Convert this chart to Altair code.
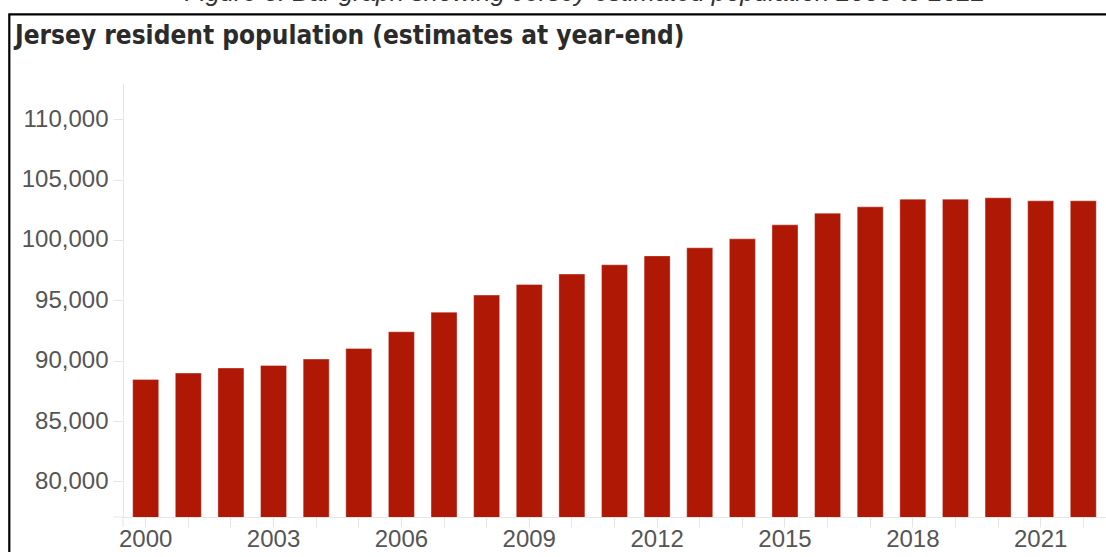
import altair as alt
import pandas as pd

years = list(range(2000, 2023))
population = [88450, 88970, 89390, 89600, 90130, 91010, 92390, 94020, 95430,
              96310, 97170, 97940, 98680, 99350, 100090, 101250, 102220,
              102740, 103380, 103380, 103490, 103240, 103240]
y_ticks = [80000, 85000, 90000, 95000, 100000, 105000, 110000]
title_text = "Jersey resident population (estimates at year-end)"
caption_text = "Figure 3: Bar graph showing Jersey estimated population 2000 to 2022"

df = pd.DataFrame({"year": years, "population": population})

W, H = 983, 434
AXIS = "#e6e6e6"
LABEL = "#555555"

bars = alt.Chart(df).mark_bar(
    color="#ae1805", stroke="#ffffff", strokeOpacity=0.35, strokeWidth=1, clip=True
).encode(
    x=alt.X("year:O",
            scale=alt.Scale(paddingInner=0.39, paddingOuter=0.2276),
            axis=alt.Axis(title=None, labelAngle=0, domainColor=AXIS, tickColor=AXIS,
                          tickSize=10, labelPadding=0, labelFontSize=24,
                          labelFont="Liberation Sans", labelColor=LABEL,
                          labelExpr="(+datum.value - 2000) % 3 == 0 ? datum.label : ''")),
    y=alt.Y("population:Q",
            scale=alt.Scale(domain=[77050, 113000], zero=False, nice=False),
            axis=alt.Axis(title=None, values=y_ticks, grid=False,
                          labelExpr="format(datum.value, ',')",
                          domainColor=AXIS, tickColor=AXIS, tickSize=10,
                          labelPadding=5, labelFontSize=24, labelFont="Liberation Sans",
                          labelColor=LABEL)),
)

# small axis-line extensions (as in reference)
ext_v = alt.Chart().mark_rule(color=AXIS, strokeWidth=1).encode(
    x=alt.value(0), y=alt.value(H), y2=alt.value(H + 10))
ext_h = alt.Chart().mark_rule(color=AXIS, strokeWidth=1).encode(
    x=alt.value(-10), x2=alt.value(0), y=alt.value(H))

border = alt.Chart().mark_rect(fill="transparent", stroke="#000000", strokeWidth=2.2).encode(
    x=alt.value(-113.7), x2=alt.value(1300), y=alt.value(-68.7), y2=alt.value(700))

title = alt.Chart().mark_text(
    text=title_text, align="left", baseline="alphabetic", fontSize=26, fontWeight="bold",
    font="DejaVu Sans Condensed, Liberation Sans", color="#2b2b2b"
).encode(x=alt.value(15 - 123), y=alt.value(44 - 83))

caption = alt.Chart().mark_text(
    text=caption_text, align="center", baseline="alphabetic", fontSize=25.5, fontStyle="italic",
    font="Liberation Sans", color="#333333"
).encode(x=alt.value(585 - 123), y=alt.value(1.0 - 83))

chart = alt.layer(bars, ext_v, ext_h, border, title, caption).properties(
    width=W, height=H,
    autosize=alt.AutoSizeParams(type="none"),
    padding={"left": 123, "top": 83, "right": 0, "bottom": 35},
    background="white",
).configure_view(stroke=None)

chart.save("out.html", embed_options={"renderer": "svg", "actions": False})
